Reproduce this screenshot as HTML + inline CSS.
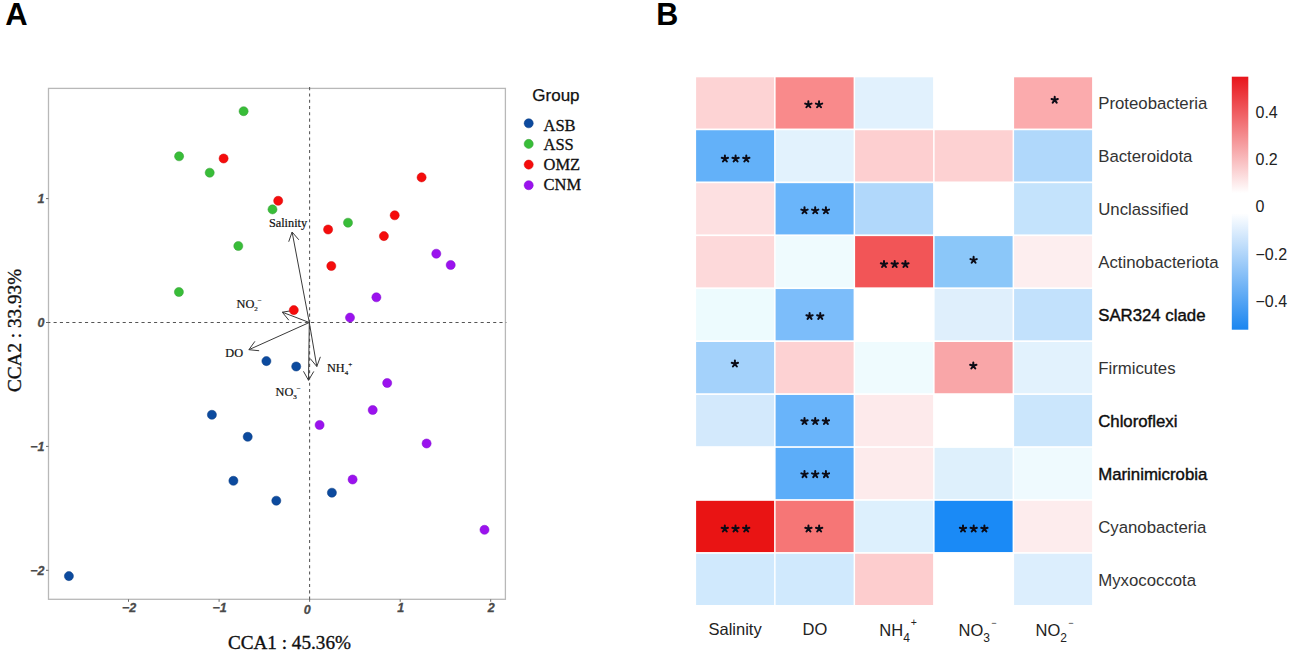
<!DOCTYPE html>
<html><head><meta charset="utf-8"><style>
html,body{margin:0;padding:0;background:#fff;width:1299px;height:654px;overflow:hidden}
svg{display:block}
.sans{font-family:"Liberation Sans",sans-serif}
.serif{font-family:"Liberation Serif",serif}
</style></head><body>
<svg width="1299" height="654" viewBox="0 0 1299 654">

<text x="5.3" y="25" class="sans" font-weight="bold" font-size="31" fill="#000">A</text>
<text x="656.3" y="25" class="sans" font-weight="bold" font-size="30.5" fill="#000">B</text>
<rect x="48.5" y="88.4" width="456.9" height="510.9" fill="none" stroke="#b8b8b8" stroke-width="1.3"/>
<line x1="47.3" y1="322.5" x2="506.4" y2="322.5" stroke="#555" stroke-width="1.05" stroke-dasharray="3.1 3.18"/>
<line x1="309.6" y1="87.1" x2="309.6" y2="600.0999999999999" stroke="#555" stroke-width="1.05" stroke-dasharray="3.1 3.19"/>
<line x1="128.5" y1="599.3" x2="128.5" y2="601.8" stroke="#666" stroke-width="1"/>
<text x="129.1" y="612.4" class="sans" text-anchor="middle" font-weight="bold" font-style="italic" font-size="12.5" fill="#4a4a4a" stroke="#4a4a4a" stroke-width="0.3">−2</text>
<line x1="219.1" y1="599.3" x2="219.1" y2="601.8" stroke="#666" stroke-width="1"/>
<text x="219.7" y="612.4" class="sans" text-anchor="middle" font-weight="bold" font-style="italic" font-size="12.5" fill="#4a4a4a" stroke="#4a4a4a" stroke-width="0.3">−1</text>
<line x1="309.6" y1="599.3" x2="309.6" y2="601.8" stroke="#666" stroke-width="1"/>
<text x="307.3" y="613.9" class="sans" text-anchor="middle" font-weight="bold" font-style="italic" font-size="12.5" fill="#4a4a4a" stroke="#4a4a4a" stroke-width="0.3">0</text>
<line x1="400.2" y1="599.3" x2="400.2" y2="601.8" stroke="#666" stroke-width="1"/>
<text x="400.8" y="612.4" class="sans" text-anchor="middle" font-weight="bold" font-style="italic" font-size="12.5" fill="#4a4a4a" stroke="#4a4a4a" stroke-width="0.3">1</text>
<line x1="490.7" y1="599.3" x2="490.7" y2="601.8" stroke="#666" stroke-width="1"/>
<text x="491.3" y="612.4" class="sans" text-anchor="middle" font-weight="bold" font-style="italic" font-size="12.5" fill="#4a4a4a" stroke="#4a4a4a" stroke-width="0.3">2</text>
<line x1="46.0" y1="570.3" x2="48.5" y2="570.3" stroke="#666" stroke-width="1"/>
<text x="44.5" y="574.9" class="sans" text-anchor="end" font-weight="bold" font-style="italic" font-size="12.5" fill="#4a4a4a" stroke="#4a4a4a" stroke-width="0.3">−2</text>
<line x1="46.0" y1="446.4" x2="48.5" y2="446.4" stroke="#666" stroke-width="1"/>
<text x="44.5" y="451.0" class="sans" text-anchor="end" font-weight="bold" font-style="italic" font-size="12.5" fill="#4a4a4a" stroke="#4a4a4a" stroke-width="0.3">−1</text>
<line x1="46.0" y1="322.5" x2="48.5" y2="322.5" stroke="#666" stroke-width="1"/>
<text x="44.5" y="327.1" class="sans" text-anchor="end" font-weight="bold" font-style="italic" font-size="12.5" fill="#4a4a4a" stroke="#4a4a4a" stroke-width="0.3">0</text>
<line x1="46.0" y1="198.6" x2="48.5" y2="198.6" stroke="#666" stroke-width="1"/>
<text x="44.5" y="203.2" class="sans" text-anchor="end" font-weight="bold" font-style="italic" font-size="12.5" fill="#4a4a4a" stroke="#4a4a4a" stroke-width="0.3">1</text>
<text x="227.9" y="648.6" class="serif" font-size="19.2" fill="#111" stroke="#111" stroke-width="0.35">CCA1 : 45.36%</text>
<text transform="translate(21.2,392) rotate(-90)" x="0" y="0" class="serif" font-size="19.2" fill="#111" stroke="#111" stroke-width="0.35">CCA2 : 33.93%</text>
<path d="M309.3,322.5 L292.1,232 M288.71,241.72 L292.1,232 L298.82,239.80" fill="none" stroke="#3a3a3a" stroke-width="1.0" stroke-linejoin="miter"/>
<path d="M309.3,322.5 L282.3,312.2 M288.80,320.19 L282.3,312.2 L292.47,310.57" fill="none" stroke="#3a3a3a" stroke-width="1.0" stroke-linejoin="miter"/>
<path d="M309.3,322.5 L248.9,349.7 M259.15,350.73 L248.9,349.7 L254.92,341.34" fill="none" stroke="#3a3a3a" stroke-width="1.0" stroke-linejoin="miter"/>
<path d="M309.3,322.5 L316.8,366.5 M320.38,356.84 L316.8,366.5 L310.22,358.57" fill="none" stroke="#3a3a3a" stroke-width="1.0" stroke-linejoin="miter"/>
<path d="M309.3,322.5 L308.5,380.3 M313.77,371.45 L308.5,380.3 L303.47,371.31" fill="none" stroke="#3a3a3a" stroke-width="1.0" stroke-linejoin="miter"/>
<g class="serif" font-size="12.3" fill="#111" stroke="#111" stroke-width="0.2">
<text x="268.9" y="227">Salinity</text>
<text x="236.6" y="308.3">NO<tspan font-size="7" dy="2.7">2</tspan><tspan font-size="7" dy="-8">−</tspan></text>
<text x="225.3" y="356.8">DO</text>
<text x="326.9" y="372">NH<tspan font-size="7" dy="2.7">4</tspan><tspan font-size="7" dy="-8">+</tspan></text>
<text x="275.5" y="395.9">NO<tspan font-size="7" dy="2.7">3</tspan><tspan font-size="7" dy="-8">−</tspan></text>
</g>
<circle cx="243.6" cy="111.2" r="4.55" fill="#38bd38" stroke="#3a9f3a" stroke-width="0.5"/>
<circle cx="179.1" cy="156.3" r="4.55" fill="#38bd38" stroke="#3a9f3a" stroke-width="0.5"/>
<circle cx="209.7" cy="172.7" r="4.55" fill="#38bd38" stroke="#3a9f3a" stroke-width="0.5"/>
<circle cx="272.5" cy="209.4" r="4.55" fill="#38bd38" stroke="#3a9f3a" stroke-width="0.5"/>
<circle cx="238.3" cy="246" r="4.55" fill="#38bd38" stroke="#3a9f3a" stroke-width="0.5"/>
<circle cx="178.9" cy="292" r="4.55" fill="#38bd38" stroke="#3a9f3a" stroke-width="0.5"/>
<circle cx="348" cy="222.7" r="4.55" fill="#38bd38" stroke="#3a9f3a" stroke-width="0.5"/>
<circle cx="223.6" cy="158.5" r="4.55" fill="#f50c0c" stroke="#d40a0a" stroke-width="0.5"/>
<circle cx="278.2" cy="200.8" r="4.55" fill="#f50c0c" stroke="#d40a0a" stroke-width="0.5"/>
<circle cx="421.6" cy="177.4" r="4.55" fill="#f50c0c" stroke="#d40a0a" stroke-width="0.5"/>
<circle cx="394.7" cy="215.3" r="4.55" fill="#f50c0c" stroke="#d40a0a" stroke-width="0.5"/>
<circle cx="328.1" cy="229.5" r="4.55" fill="#f50c0c" stroke="#d40a0a" stroke-width="0.5"/>
<circle cx="383.9" cy="236.1" r="4.55" fill="#f50c0c" stroke="#d40a0a" stroke-width="0.5"/>
<circle cx="331.3" cy="266" r="4.55" fill="#f50c0c" stroke="#d40a0a" stroke-width="0.5"/>
<circle cx="293.8" cy="310.1" r="4.55" fill="#f50c0c" stroke="#d40a0a" stroke-width="0.5"/>
<circle cx="436.3" cy="253.7" r="4.55" fill="#9b12ee" stroke="#8010d0" stroke-width="0.5"/>
<circle cx="450.7" cy="265" r="4.55" fill="#9b12ee" stroke="#8010d0" stroke-width="0.5"/>
<circle cx="376.4" cy="297.3" r="4.55" fill="#9b12ee" stroke="#8010d0" stroke-width="0.5"/>
<circle cx="350" cy="317.6" r="4.55" fill="#9b12ee" stroke="#8010d0" stroke-width="0.5"/>
<circle cx="387.2" cy="383" r="4.55" fill="#9b12ee" stroke="#8010d0" stroke-width="0.5"/>
<circle cx="372.7" cy="410" r="4.55" fill="#9b12ee" stroke="#8010d0" stroke-width="0.5"/>
<circle cx="319.6" cy="425" r="4.55" fill="#9b12ee" stroke="#8010d0" stroke-width="0.5"/>
<circle cx="426.6" cy="443.5" r="4.55" fill="#9b12ee" stroke="#8010d0" stroke-width="0.5"/>
<circle cx="352.6" cy="479.5" r="4.55" fill="#9b12ee" stroke="#8010d0" stroke-width="0.5"/>
<circle cx="484.5" cy="529.8" r="4.55" fill="#9b12ee" stroke="#8010d0" stroke-width="0.5"/>
<circle cx="266.4" cy="361.1" r="4.55" fill="#0c4a9e" stroke="#0a3c82" stroke-width="0.5"/>
<circle cx="296.2" cy="366.5" r="4.55" fill="#0c4a9e" stroke="#0a3c82" stroke-width="0.5"/>
<circle cx="211.9" cy="414.8" r="4.55" fill="#0c4a9e" stroke="#0a3c82" stroke-width="0.5"/>
<circle cx="247.7" cy="436.8" r="4.55" fill="#0c4a9e" stroke="#0a3c82" stroke-width="0.5"/>
<circle cx="233.4" cy="480.8" r="4.55" fill="#0c4a9e" stroke="#0a3c82" stroke-width="0.5"/>
<circle cx="276.3" cy="500.7" r="4.55" fill="#0c4a9e" stroke="#0a3c82" stroke-width="0.5"/>
<circle cx="331.9" cy="492.7" r="4.55" fill="#0c4a9e" stroke="#0a3c82" stroke-width="0.5"/>
<circle cx="68.9" cy="576.1" r="4.55" fill="#0c4a9e" stroke="#0a3c82" stroke-width="0.5"/>
<text x="532.3" y="100.6" class="sans" font-size="17" fill="#111" stroke="#111" stroke-width="0.25">Group</text>
<circle cx="528.7" cy="123.3" r="4.55" fill="#0c4a9e" stroke="#0a3c82" stroke-width="0.5"/>
<text x="543.5" y="130.6" class="serif" font-size="16.5" fill="#111" stroke="#111" stroke-width="0.3">ASB</text>
<circle cx="528.7" cy="143.9" r="4.55" fill="#38bd38" stroke="#3a9f3a" stroke-width="0.5"/>
<text x="543.5" y="150.4" class="serif" font-size="16.5" fill="#111" stroke="#111" stroke-width="0.3">ASS</text>
<circle cx="528.7" cy="164.6" r="4.55" fill="#f50c0c" stroke="#d40a0a" stroke-width="0.5"/>
<text x="543.5" y="170.3" class="serif" font-size="16.5" fill="#111" stroke="#111" stroke-width="0.3">OMZ</text>
<circle cx="528.7" cy="185.2" r="4.55" fill="#9b12ee" stroke="#8010d0" stroke-width="0.5"/>
<text x="543.5" y="190.2" class="serif" font-size="16.5" fill="#111" stroke="#111" stroke-width="0.3">CNM</text>
<rect x="696.10" y="77.30" width="78.00" height="51.24" fill="#fdd3d4"/>
<rect x="775.60" y="77.30" width="78.00" height="51.24" fill="#f98a8b"/>
<rect x="855.10" y="77.30" width="78.00" height="51.24" fill="#e1f1fd"/>
<rect x="934.60" y="77.30" width="78.00" height="51.24" fill="#ffffff"/>
<rect x="1014.10" y="77.30" width="78.00" height="51.24" fill="#fbabad"/>
<rect x="696.10" y="130.24" width="78.00" height="51.24" fill="#63b1f9"/>
<rect x="775.60" y="130.24" width="78.00" height="51.24" fill="#e2f2fd"/>
<rect x="855.10" y="130.24" width="78.00" height="51.24" fill="#fdcfd0"/>
<rect x="934.60" y="130.24" width="78.00" height="51.24" fill="#fdd1d2"/>
<rect x="1014.10" y="130.24" width="78.00" height="51.24" fill="#b0d8fb"/>
<rect x="696.10" y="183.18" width="78.00" height="51.24" fill="#fde0e1"/>
<rect x="775.60" y="183.18" width="78.00" height="51.24" fill="#6ab5fa"/>
<rect x="855.10" y="183.18" width="78.00" height="51.24" fill="#b1d8fb"/>
<rect x="934.60" y="183.18" width="78.00" height="51.24" fill="#ffffff"/>
<rect x="1014.10" y="183.18" width="78.00" height="51.24" fill="#c4e3fc"/>
<rect x="696.10" y="236.12" width="78.00" height="51.24" fill="#fdd9da"/>
<rect x="775.60" y="236.12" width="78.00" height="51.24" fill="#effbfe"/>
<rect x="855.10" y="236.12" width="78.00" height="51.24" fill="#f25557"/>
<rect x="934.60" y="236.12" width="78.00" height="51.24" fill="#8bc7f9"/>
<rect x="1014.10" y="236.12" width="78.00" height="51.24" fill="#fdeeef"/>
<rect x="696.10" y="289.06" width="78.00" height="51.24" fill="#edfbfe"/>
<rect x="775.60" y="289.06" width="78.00" height="51.24" fill="#7cbdfa"/>
<rect x="855.10" y="289.06" width="78.00" height="51.24" fill="#ffffff"/>
<rect x="934.60" y="289.06" width="78.00" height="51.24" fill="#dfeffc"/>
<rect x="1014.10" y="289.06" width="78.00" height="51.24" fill="#c2e1fc"/>
<rect x="696.10" y="342.00" width="78.00" height="51.24" fill="#a4d2fb"/>
<rect x="775.60" y="342.00" width="78.00" height="51.24" fill="#fdd2d3"/>
<rect x="855.10" y="342.00" width="78.00" height="51.24" fill="#effbfe"/>
<rect x="934.60" y="342.00" width="78.00" height="51.24" fill="#f9a6a8"/>
<rect x="1014.10" y="342.00" width="78.00" height="51.24" fill="#e2f2fd"/>
<rect x="696.10" y="394.94" width="78.00" height="51.24" fill="#d3e9fc"/>
<rect x="775.60" y="394.94" width="78.00" height="51.24" fill="#69b4fa"/>
<rect x="855.10" y="394.94" width="78.00" height="51.24" fill="#fdeaeb"/>
<rect x="934.60" y="394.94" width="78.00" height="51.24" fill="#ffffff"/>
<rect x="1014.10" y="394.94" width="78.00" height="51.24" fill="#cbe6fc"/>
<rect x="696.10" y="447.88" width="78.00" height="51.24" fill="#ffffff"/>
<rect x="775.60" y="447.88" width="78.00" height="51.24" fill="#5cadf9"/>
<rect x="855.10" y="447.88" width="78.00" height="51.24" fill="#fdebec"/>
<rect x="934.60" y="447.88" width="78.00" height="51.24" fill="#def0fc"/>
<rect x="1014.10" y="447.88" width="78.00" height="51.24" fill="#effafe"/>
<rect x="696.10" y="500.82" width="78.00" height="51.24" fill="#e91414"/>
<rect x="775.60" y="500.82" width="78.00" height="51.24" fill="#f67676"/>
<rect x="855.10" y="500.82" width="78.00" height="51.24" fill="#ddf0fd"/>
<rect x="934.60" y="500.82" width="78.00" height="51.24" fill="#1a8af6"/>
<rect x="1014.10" y="500.82" width="78.00" height="51.24" fill="#fdeced"/>
<rect x="696.10" y="553.76" width="78.00" height="51.24" fill="#d0e9fd"/>
<rect x="775.60" y="553.76" width="78.00" height="51.24" fill="#d0e9fd"/>
<rect x="855.10" y="553.76" width="78.00" height="51.24" fill="#fdcdce"/>
<rect x="934.60" y="553.76" width="78.00" height="51.24" fill="#ffffff"/>
<rect x="1014.10" y="553.76" width="78.00" height="51.24" fill="#dceefd"/>
<path d="M808.35,104.60L808.35,101.30M808.35,104.60L811.49,103.58M808.35,104.60L810.29,107.27M808.35,104.60L806.41,107.27M808.35,104.60L805.21,103.58M819.05,104.60L819.05,101.30M819.05,104.60L822.19,103.58M819.05,104.60L820.99,107.27M819.05,104.60L817.11,107.27M819.05,104.60L815.91,103.58M1054.70,100.00L1054.70,96.70M1054.70,100.00L1057.84,98.98M1054.70,100.00L1056.64,102.67M1054.70,100.00L1052.76,102.67M1054.70,100.00L1051.56,98.98M724.90,158.80L724.90,155.50M724.90,158.80L728.04,157.78M724.90,158.80L726.84,161.47M724.90,158.80L722.96,161.47M724.90,158.80L721.76,157.78M735.60,158.80L735.60,155.50M735.60,158.80L738.74,157.78M735.60,158.80L737.54,161.47M735.60,158.80L733.66,161.47M735.60,158.80L732.46,157.78M746.30,158.80L746.30,155.50M746.30,158.80L749.44,157.78M746.30,158.80L748.24,161.47M746.30,158.80L744.36,161.47M746.30,158.80L743.16,157.78M804.50,210.60L804.50,207.30M804.50,210.60L807.64,209.58M804.50,210.60L806.44,213.27M804.50,210.60L802.56,213.27M804.50,210.60L801.36,209.58M815.20,210.60L815.20,207.30M815.20,210.60L818.34,209.58M815.20,210.60L817.14,213.27M815.20,210.60L813.26,213.27M815.20,210.60L812.06,209.58M825.90,210.60L825.90,207.30M825.90,210.60L829.04,209.58M825.90,210.60L827.84,213.27M825.90,210.60L823.96,213.27M825.90,210.60L822.76,209.58M884.00,264.30L884.00,261.00M884.00,264.30L887.14,263.28M884.00,264.30L885.94,266.97M884.00,264.30L882.06,266.97M884.00,264.30L880.86,263.28M894.70,264.30L894.70,261.00M894.70,264.30L897.84,263.28M894.70,264.30L896.64,266.97M894.70,264.30L892.76,266.97M894.70,264.30L891.56,263.28M905.40,264.30L905.40,261.00M905.40,264.30L908.54,263.28M905.40,264.30L907.34,266.97M905.40,264.30L903.46,266.97M905.40,264.30L902.26,263.28M973.60,260.10L973.60,256.80M973.60,260.10L976.74,259.08M973.60,260.10L975.54,262.77M973.60,260.10L971.66,262.77M973.60,260.10L970.46,259.08M809.55,316.20L809.55,312.90M809.55,316.20L812.69,315.18M809.55,316.20L811.49,318.87M809.55,316.20L807.61,318.87M809.55,316.20L806.41,315.18M820.25,316.20L820.25,312.90M820.25,316.20L823.39,315.18M820.25,316.20L822.19,318.87M820.25,316.20L818.31,318.87M820.25,316.20L817.11,315.18M734.90,363.80L734.90,360.50M734.90,363.80L738.04,362.78M734.90,363.80L736.84,366.47M734.90,363.80L732.96,366.47M734.90,363.80L731.76,362.78M973.30,365.80L973.30,362.50M973.30,365.80L976.44,364.78M973.30,365.80L975.24,368.47M973.30,365.80L971.36,368.47M973.30,365.80L970.16,364.78M804.50,421.30L804.50,418.00M804.50,421.30L807.64,420.28M804.50,421.30L806.44,423.97M804.50,421.30L802.56,423.97M804.50,421.30L801.36,420.28M815.20,421.30L815.20,418.00M815.20,421.30L818.34,420.28M815.20,421.30L817.14,423.97M815.20,421.30L813.26,423.97M815.20,421.30L812.06,420.28M825.90,421.30L825.90,418.00M825.90,421.30L829.04,420.28M825.90,421.30L827.84,423.97M825.90,421.30L823.96,423.97M825.90,421.30L822.76,420.28M804.50,474.40L804.50,471.10M804.50,474.40L807.64,473.38M804.50,474.40L806.44,477.07M804.50,474.40L802.56,477.07M804.50,474.40L801.36,473.38M815.20,474.40L815.20,471.10M815.20,474.40L818.34,473.38M815.20,474.40L817.14,477.07M815.20,474.40L813.26,477.07M815.20,474.40L812.06,473.38M825.90,474.40L825.90,471.10M825.90,474.40L829.04,473.38M825.90,474.40L827.84,477.07M825.90,474.40L823.96,477.07M825.90,474.40L822.76,473.38M724.80,528.80L724.80,525.50M724.80,528.80L727.94,527.78M724.80,528.80L726.74,531.47M724.80,528.80L722.86,531.47M724.80,528.80L721.66,527.78M735.50,528.80L735.50,525.50M735.50,528.80L738.64,527.78M735.50,528.80L737.44,531.47M735.50,528.80L733.56,531.47M735.50,528.80L732.36,527.78M746.20,528.80L746.20,525.50M746.20,528.80L749.34,527.78M746.20,528.80L748.14,531.47M746.20,528.80L744.26,531.47M746.20,528.80L743.06,527.78M808.45,528.80L808.45,525.50M808.45,528.80L811.59,527.78M808.45,528.80L810.39,531.47M808.45,528.80L806.51,531.47M808.45,528.80L805.31,527.78M819.15,528.80L819.15,525.50M819.15,528.80L822.29,527.78M819.15,528.80L821.09,531.47M819.15,528.80L817.21,531.47M819.15,528.80L816.01,527.78M963.00,528.80L963.00,525.50M963.00,528.80L966.14,527.78M963.00,528.80L964.94,531.47M963.00,528.80L961.06,531.47M963.00,528.80L959.86,527.78M973.70,528.80L973.70,525.50M973.70,528.80L976.84,527.78M973.70,528.80L975.64,531.47M973.70,528.80L971.76,531.47M973.70,528.80L970.56,527.78M984.40,528.80L984.40,525.50M984.40,528.80L987.54,527.78M984.40,528.80L986.34,531.47M984.40,528.80L982.46,531.47M984.40,528.80L981.26,527.78" fill="none" stroke="#0b0b16" stroke-width="2.0" stroke-linecap="round"/>
<text x="1098.2" y="109.17" class="sans" font-size="16.8" fill="#333">Proteobacteria</text>
<text x="1098.2" y="162.11" class="sans" font-size="16.8" fill="#333">Bacteroidota</text>
<text x="1098.2" y="215.05" class="sans" font-size="16.8" fill="#333">Unclassified</text>
<text x="1098.2" y="267.99" class="sans" font-size="16.8" fill="#333">Actinobacteriota</text>
<text x="1098.2" y="320.93" class="sans" font-size="16.8" fill="#0d0d0d" stroke="#0d0d0d" stroke-width="0.4">SAR324 clade</text>
<text x="1098.2" y="373.87" class="sans" font-size="16.8" fill="#333">Firmicutes</text>
<text x="1098.2" y="426.81" class="sans" font-size="16.8" fill="#0d0d0d" stroke="#0d0d0d" stroke-width="0.4">Chloroflexi</text>
<text x="1098.2" y="479.75" class="sans" font-size="16.8" fill="#0d0d0d" stroke="#0d0d0d" stroke-width="0.4">Marinimicrobia</text>
<text x="1098.2" y="532.69" class="sans" font-size="16.8" fill="#333">Cyanobacteria</text>
<text x="1098.2" y="585.63" class="sans" font-size="16.8" fill="#333">Myxococcota</text>
<g class="sans" font-size="16.5" fill="#222">
<text x="708.5" y="635.3">Salinity</text>
<text x="802.6" y="635.3">DO</text>
<text x="879.3" y="635.7">NH<tspan font-size="12" dy="6.1">4</tspan><tspan font-size="10.5" dy="-15.5" dx="0.8">+</tspan></text>
<text x="958.6" y="635.7">NO<tspan font-size="12" dy="6.1">3</tspan><tspan font-size="9" dy="-16.3" dx="1.2">−</tspan></text>
<text x="1035.6" y="635.7">NO<tspan font-size="12" dy="6.1">2</tspan><tspan font-size="9" dy="-16.3" dx="1.2">−</tspan></text>
</g>
<defs><linearGradient id="cb" x1="0" y1="0" x2="0" y2="1"><stop offset="0" stop-color="#e8151b"/><stop offset="0.46" stop-color="#ffffff"/><stop offset="0.54" stop-color="#ffffff"/><stop offset="1" stop-color="#1b86f0"/></linearGradient></defs>
<rect x="1231.8" y="76.7" width="16.5" height="253" fill="url(#cb)"/>
<text x="1255.5" y="117.5" class="sans" font-size="16" fill="#222">0.4</text>
<text x="1255.5" y="164.6" class="sans" font-size="16" fill="#222">0.2</text>
<text x="1255.5" y="212.1" class="sans" font-size="16" fill="#222">0</text>
<text x="1255.5" y="259.8" class="sans" font-size="16" fill="#222">−0.2</text>
<text x="1255.5" y="306.7" class="sans" font-size="16" fill="#222">−0.4</text>
</svg></body></html>
